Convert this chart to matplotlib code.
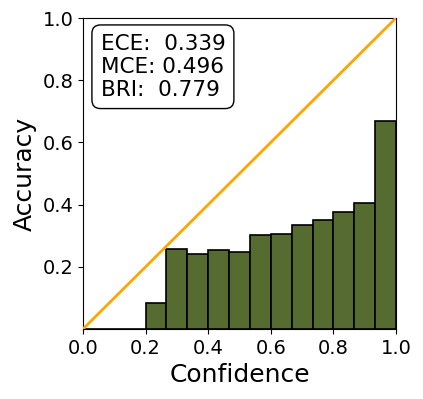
import matplotlib.pyplot as plt
import numpy as np

# 15 equal bins over [0, 1], first three empty
n_bins = 15
bin_edges = np.linspace(0, 1, n_bins + 1)
accuracy = [0, 0, 0, 0.085, 0.257, 0.240, 0.255, 0.247, 0.302,
            0.307, 0.334, 0.349, 0.375, 0.405, 0.669]
ece, mce, bri = 0.339, 0.496, 0.779

fig = plt.figure(figsize=(4.23, 3.99), dpi=100)
ax = fig.add_axes([83 / 423, 1 - 329 / 399, 313 / 423, 311 / 399])

width = bin_edges[1] - bin_edges[0]
ax.bar(bin_edges[:-1], accuracy, width=width, align='edge',
       color='darkolivegreen', edgecolor='black', linewidth=1.2, zorder=2)
ax.plot([0, 1], [0, 1], color='orange', linewidth=2, zorder=3)

ax.set_xlim(0, 1)
ax.set_ylim(0, 1)
ax.set_xticks([0, 0.2, 0.4, 0.6, 0.8, 1.0])
ax.set_yticks([0.2, 0.4, 0.6, 0.8, 1.0])
ax.tick_params(labelsize=14)
ax.set_xlabel('Confidence', fontsize=18)
ax.set_ylabel('Accuracy', fontsize=18)

txt = 'ECE:  %.3f\nMCE: %.3f\nBRI:  %.3f' % (ece, mce, bri)
ax.text(0.056, 0.95, txt, transform=ax.transAxes, fontsize=15.5,
        va='top', ha='left',
        bbox=dict(boxstyle='round,pad=0.4', facecolor='white', edgecolor='black'), zorder=5)

fig.savefig('out.png', dpi=100)
